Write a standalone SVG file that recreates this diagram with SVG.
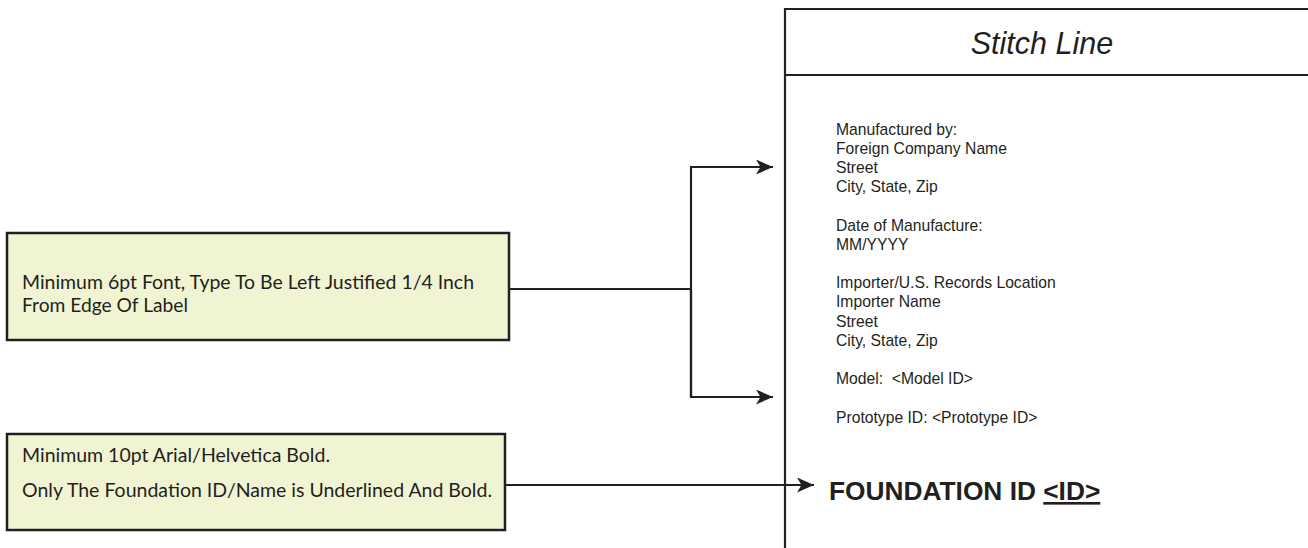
<svg xmlns="http://www.w3.org/2000/svg" width="1308" height="548" viewBox="0 0 1308 548">
<style>
.note rect{fill:#f1f4d3;stroke:#231f20;stroke-width:2.5}
.note text{font-family:Lato,"Open Sans",sans-serif;font-size:18.5px;fill:#231f20}
.lbl{font-family:"Liberation Sans",Arial,sans-serif;font-size:15.7px;fill:#231f20}
.conn{fill:none;stroke:#231f20;stroke-width:2.2}
.frame{fill:none;stroke:#231f20;stroke-width:2.2}
</style>
<defs>
<marker id="ah" markerUnits="userSpaceOnUse" markerWidth="20" markerHeight="16" refX="17" refY="7.5" orient="auto">
<path d="M0,0 L17,7.5 L0,15 L4.5,7.5 Z" fill="#231f20"/>
</marker>
</defs>
<rect width="1308" height="548" fill="#ffffff"/>
<g id="label">
<path class="frame" d="M785,560 V9 H1320 M785,75 H1320"/>
<text x="1042" y="54" font-family="Liberation Sans,Arial,sans-serif" font-style="italic" font-size="30.5" fill="#231f20" text-anchor="middle">Stitch Line</text>
<g class="lbl">
<text x="836" y="135">Manufactured by:</text>
<text x="836" y="154">Foreign Company Name</text>
<text x="836" y="173">Street</text>
<text x="836" y="192">City, State, Zip</text>
<text x="836" y="231">Date of Manufacture:</text>
<text x="836" y="250">MM/YYYY</text>
<text x="836" y="288">Importer/U.S. Records Location</text>
<text x="836" y="307">Importer Name</text>
<text x="836" y="327">Street</text>
<text x="836" y="346">City, State, Zip</text>
<text x="836" y="384" xml:space="preserve">Model:  &lt;Model ID&gt;</text>
<text x="836" y="423">Prototype ID: &lt;Prototype ID&gt;</text>
</g>
<text x="829" y="500" font-family="Liberation Sans,Arial,sans-serif" font-weight="bold" font-size="26.3" fill="#231f20">FOUNDATION ID <tspan text-decoration="underline">&lt;ID&gt;</tspan></text>
</g>
<g id="note1" class="note">
<rect x="7" y="233" width="502" height="107"/>
<text x="22" y="289" textLength="452" lengthAdjust="spacingAndGlyphs">Minimum 6pt Font, Type To Be Left Justified 1/4 Inch</text>
<text x="22" y="312" textLength="166" lengthAdjust="spacingAndGlyphs">From Edge Of Label</text>
</g>
<g id="note2" class="note">
<rect x="7" y="434" width="498" height="96"/>
<text x="22" y="462" textLength="308" lengthAdjust="spacingAndGlyphs">Minimum 10pt Arial/Helvetica Bold.</text>
<text x="22" y="497" textLength="470" lengthAdjust="spacingAndGlyphs">Only The Foundation ID/Name is Underlined And Bold.</text>
</g>
<g id="connectors">
<path class="conn" d="M509,289 H691"/>
<path class="conn" d="M691,397 V167 H773" marker-end="url(#ah)"/>
<path class="conn" d="M691,289 V397 H773" marker-end="url(#ah)"/>
<path class="conn" d="M505,485 H814" marker-end="url(#ah)"/>
</g>
</svg>
